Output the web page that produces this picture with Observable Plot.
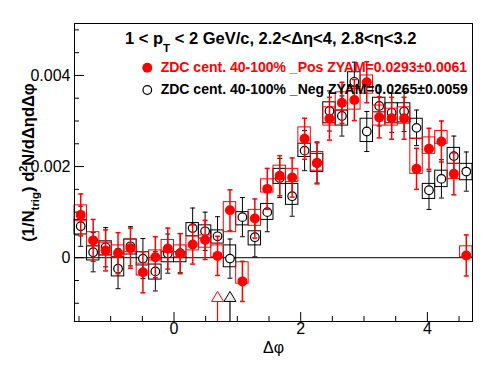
<!DOCTYPE html>
<html><head><meta charset="utf-8">
<script src="https://cdn.jsdelivr.net/npm/d3@7"></script>
<script src="https://cdn.jsdelivr.net/npm/@observablehq/plot@0.6"></script>
<style>html,body{margin:0;padding:0;background:#fff} svg{display:block}</style>
</head><body><div id="chart"></div>
<script>
// ---- binning (32 bins over -pi/2 .. 3pi/2) ----
const nBins = 32;
const phiMin = -Math.PI / 2, phiMax = 3 * Math.PI / 2;

// ---- ZDC 40-100% Pos (red, filled) ----
const posY = [0.00094, 0.00038, 0.00016, 0.00010, 0.00021, -0.00032, 0.00001, 0.00020, 0.00009, 0.00029, 0.00039, 0.00004, 0.00104, -0.00052, 0.00086, 0.00151, 0.00180, 0.00176, 0.00261, 0.00208, 0.00305, 0.00340, 0.00346, 0.00385, 0.00308, 0.00306, 0.00306, 0.00195, 0.00239, 0.00255, 0.00184, 0.00005];
const posStat = [0.00046, 0.00046, 0.00045, 0.00045, 0.00044, 0.00045, 0.00045, 0.00045, 0.00044, 0.00043, 0.00043, 0.00043, 0.00045, 0.00044, 0.00043, 0.00045, 0.00044, 0.00043, 0.00045, 0.00046, 0.00047, 0.00045, 0.00045, 0.00045, 0.00045, 0.00046, 0.00046, 0.00045, 0.00045, 0.00045, 0.00046, 0.00045];
const posBoxLow = [0.00080, 0.00025, 0.00005, 0.00000, 0.00012, -0.00039, -0.00006, 0.00014, 0.00001, 0.00016, 0.00022, 0.00001, 0.00056, -0.00057, 0.00070, 0.00143, 0.00173, 0.00166, 0.00250, 0.00191, 0.00290, 0.00323, 0.00325, 0.00360, 0.00290, 0.00290, 0.00294, 0.00184, 0.00228, 0.00250, 0.00173, 0.00001];
const posBoxHigh = [0.00115, 0.00056, 0.00033, 0.00027, 0.00040, -0.00013, 0.00016, 0.00039, 0.00027, 0.00047, 0.00049, 0.00027, 0.00122, -0.00010, 0.00105, 0.00172, 0.00202, 0.00195, 0.00286, 0.00232, 0.00330, 0.00363, 0.00370, 0.00400, 0.00334, 0.00327, 0.00330, 0.00261, 0.00264, 0.00278, 0.00206, 0.00025];

// ---- ZDC 40-100% Neg (black, open) ----
const negY = [0.00069, 0.00012, 0.00023, -0.00024, 0.00025, -0.00002, -0.00030, 0.00009, 0.00010, 0.00065, 0.00058, 0.00047, -0.00002, 0.00089, 0.00045, 0.00100, 0.00175, 0.00135, 0.00235, 0.00208, 0.00322, 0.00311, 0.00386, 0.00277, 0.00333, 0.00318, 0.00321, 0.00285, 0.00148, 0.00173, 0.00223, 0.00189];
const negStat = [0.00044, 0.00043, 0.00043, 0.00044, 0.00043, 0.00044, 0.00043, 0.00043, 0.00043, 0.00044, 0.00042, 0.00043, 0.00043, 0.00043, 0.00043, 0.00043, 0.00043, 0.00044, 0.00044, 0.00044, 0.00044, 0.00044, 0.00043, 0.00044, 0.00044, 0.00043, 0.00044, 0.00039, 0.00042, 0.00042, 0.00044, 0.00043];
const negBoxLow = [0.00051, -0.00006, 0.00005, -0.00041, 0.00007, -0.00017, -0.00048, -0.00010, -0.00010, 0.00047, 0.00042, 0.00031, -0.00021, 0.00071, 0.00027, 0.00083, 0.00162, 0.00116, 0.00221, 0.00188, 0.00295, 0.00290, 0.00374, 0.00254, 0.00319, 0.00295, 0.00297, 0.00261, 0.00129, 0.00155, 0.00206, 0.00170];
const negBoxHigh = [0.00083, 0.00025, 0.00036, 0.00001, 0.00040, 0.00012, -0.00015, 0.00012, 0.00012, 0.00076, 0.00071, 0.00060, 0.00027, 0.00100, 0.00058, 0.00118, 0.00195, 0.00162, 0.00250, 0.00228, 0.00341, 0.00323, 0.00407, 0.00305, 0.00351, 0.00339, 0.00339, 0.00305, 0.00162, 0.00191, 0.00241, 0.00206];

// ---- ZYAM minimum markers (bin index) ----
const zyamBins = [11, 12];
const zyamColors = ["red", "black"];
const zyamFills = ["white", "#eeeeee"];
const zyamMarkerY = -0.00085;
const zyamLineTop = -0.00095;

// ---- axes ----
const xTickLabels = [0, 2, 4];
const xMinorTicks = [-1.5, -1, -0.5, 0.5, 1, 1.5, 2.5, 3, 3.5, 4.5];
const yTickLabels = [0, 0.002, 0.004];
const yMinorTicks = [-0.001, -0.0005, 0.0005, 0.001, 0.0015, 0.0025, 0.003, 0.0035, 0.0045, 0.005];
const yDomain = [-0.0014, 0.00514];

const titleParts = ["1 < p", "T", " < 2 GeV/c, 2.2<\u0394\u03b7<4, 2.8<\u03b7<3.2"];
const legendLabels = ["ZDC cent. 40-100% _Pos ZYAM=0.0293\u00b10.0061", "ZDC cent. 40-100% _Neg ZYAM=0.0265\u00b10.0059"];
const xTitle = "\u0394\u03c6";

// ---- build rows ----
const bw = (phiMax - phiMin) / nBins;
function rows(Y, S, L, Hh) {
  return Y.map((y, i) => ({
    x: phiMin + (i + 0.5) * bw, x1: phiMin + i * bw, x2: phiMin + (i + 1) * bw,
    y, lo: y - S[i], hi: y + S[i], bl: L[i], bh: Hh[i]
  }));
}
const pos = rows(posY, posStat, posBoxLow, posBoxHigh);
const neg = rows(negY, negStat, negBoxLow, negBoxHigh);
const zyam = zyamBins.map((b, i) => ({x: phiMin + (b + 0.5) * bw, c: zyamColors[i], f: zyamFills[i]}));

const W = 496, H = 374, mL = 74, mR = 24, mT = 23, mB = 53;
const fw = W - mL - mR, fh = H - mT - mB;
const FONT = "'Liberation Sans', Arial, Helvetica, sans-serif";

const capSym = {draw(ctx) { ctx.moveTo(-2.5, 0); ctx.lineTo(2.5, 0); }};
const triSym = {draw(ctx) { ctx.moveTo(0, -5); ctx.lineTo(6, 5); ctx.lineTo(-6, 5); ctx.closePath(); }};

function series(data, color, lw) {
  return [
    Plot.rect(data, {x1: "x1", x2: "x2", y1: "bl", y2: "bh", fill: "none", stroke: color, strokeWidth: 1}),
    Plot.ruleX(data, {x: "x", y1: "lo", y2: "hi", stroke: color, strokeWidth: lw}),
    Plot.dot(data, {x: "x", y: "lo", symbol: capSym, stroke: color, strokeWidth: lw, fill: "none"}),
    Plot.dot(data, {x: "x", y: "hi", symbol: capSym, stroke: color, strokeWidth: lw, fill: "none"})
  ];
}

const plot = Plot.plot({
  width: W, height: H, marginLeft: mL, marginRight: mR, marginTop: mT, marginBottom: mB,
  x: {domain: [phiMin, phiMax], axis: null},
  y: {domain: yDomain, axis: null},
  style: {fontFamily: FONT, fontSize: "16px", background: "white", color: "black", overflow: "visible"},
  marks: [
    Plot.ruleY([0], {stroke: "black", strokeWidth: 1}),
    // ticks (inside frame)
    Plot.ruleX(xTickLabels, {x: d => d, insetTop: fh - 9, stroke: "black"}),
    Plot.ruleX(xMinorTicks, {x: d => d, insetTop: fh - 5, stroke: "black"}),
    Plot.ruleY(yTickLabels, {y: d => d, insetRight: fw - 10, stroke: "black"}),
    Plot.ruleY(yMinorTicks, {y: d => d, insetRight: fw - 5, stroke: "black"}),
    // tick labels
    Plot.text(xTickLabels, {x: d => d, frameAnchor: "bottom", dy: 12, text: d => String(d), fontSize: 16, fill: "black"}),
    Plot.text(yTickLabels, {y: d => d, frameAnchor: "left", textAnchor: "end", dx: -4, text: d => d === 0 ? "0" : d.toFixed(3), fontSize: 16, fill: "black"}),
    Plot.text([xTitle], {frameAnchor: "bottom", dy: 31, text: d => d, fontSize: 16, fill: "black"}),
    // Neg series (black)
    ...series(neg, "black", 1),
    Plot.dot(neg, {x: "x", y: "y", r: 4.3, stroke: "black", strokeWidth: 1.2, fill: "white"}),
    // Pos series (red)
    ...series(pos, "red", 1.5),
    Plot.dot(pos, {x: "x", y: "y", r: 5, fill: "red", stroke: "none"}),
    // ZYAM markers
    Plot.ruleX(zyam, {x: "x", y1: zyamLineTop, y2: yDomain[0], stroke: "c", strokeWidth: 1.2}),
    Plot.dot(zyam, {x: "x", y: zyamMarkerY, symbol: triSym, stroke: "c", fill: "f", strokeWidth: 1}),
    Plot.frame({stroke: "black", strokeWidth: 1})
  ]
});

const svg = d3.select(plot);
// title
const t = svg.append("text").attr("x", 125).attr("y", 44).attr("font-size", 16.5).attr("text-anchor", "start")
  .attr("font-weight", "bold").attr("fill", "black").attr("font-family", FONT);
t.append("tspan").text(titleParts[0]);
t.append("tspan").attr("font-size", 11.5).attr("dy", 8).text(titleParts[1]);
t.append("tspan").attr("dy", -8).text(titleParts[2]);

// legend
const legColors = ["red", "black"];
const legY = [71.7, 94];
legendLabels.forEach((lab, i) => {
  if (i === 0) svg.append("circle").attr("cx", 147.3).attr("cy", legY[i] - 4).attr("r", 5).attr("fill", "red");
  else svg.append("circle").attr("cx", 147.3).attr("cy", legY[i] - 4).attr("r", 4.3).attr("fill", "white").attr("stroke", "black").attr("stroke-width", 1.2);
  svg.append("text").attr("x", 160.7).attr("y", legY[i]).attr("font-size", 14).attr("font-weight", "bold").attr("text-anchor", "start")
    .attr("fill", legColors[i]).attr("font-family", FONT).text(lab);
});

// y title
const yl = svg.append("text").attr("transform", "translate(34,162.5) rotate(-90)").attr("text-anchor", "middle")
  .attr("font-size", 16.5).attr("font-weight", "bold").attr("fill", "black").attr("font-family", FONT);
yl.append("tspan").text("(1/N");
yl.append("tspan").attr("font-size", 11.5).attr("dy", 5).text("trig");
yl.append("tspan").attr("dy", -5).text(") d");
yl.append("tspan").attr("font-size", 11).attr("dy", -7).text("2");
yl.append("tspan").attr("dy", 7).text("N/d\u0394\u03b7d\u0394\u03c6");

document.getElementById("chart").appendChild(plot);
</script>
</body></html>
